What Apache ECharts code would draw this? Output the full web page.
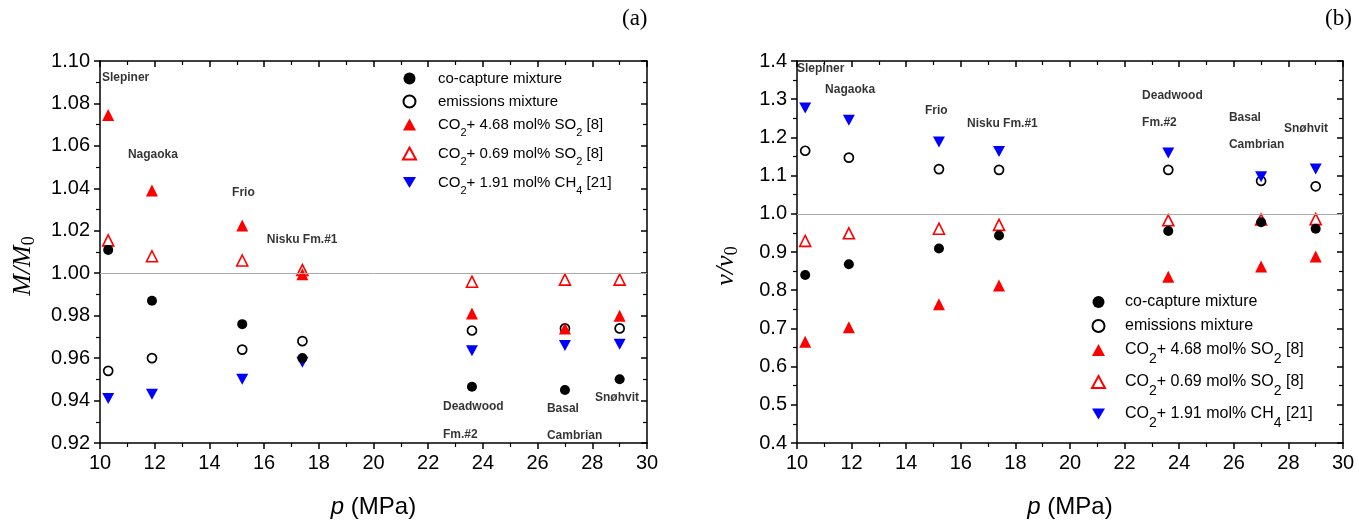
<!DOCTYPE html>
<html>
<head>
<meta charset="utf-8">
<script src="https://cdn.jsdelivr.net/npm/echarts@6/dist/echarts.min.js"></script>
<style>html,body{margin:0;padding:0;background:#fff}#c{width:1359px;height:525px}</style>
</head>
<body>
<div id="c"></div>
<script>
// ---- data ----
const pressure = [10.3, 11.9, 15.2, 17.4, 23.6, 27.0, 29.0];
// panel (a): M/M0
const coCaptureM = [1.011, 0.987, 0.976, 0.960, 0.9465, 0.945, 0.950];
const emissionsM = [0.954, 0.960, 0.964, 0.968, 0.973, 0.974, 0.974];
const so2HighM   = [1.0745, 1.039, 1.0225, 0.9995, 0.981, 0.974, 0.980];
const so2LowM    = [1.0155, 1.008, 1.006, 1.0015, 0.996, 0.997, 0.997];
const ch4M       = [0.941, 0.943, 0.950, 0.958, 0.9635, 0.966, 0.9665];
// panel (b): v/v0
const coCaptureV = [0.840, 0.868, 0.909, 0.943, 0.955, 0.978, 0.961];
const emissionsV = [1.165, 1.147, 1.117, 1.115, 1.115, 1.086, 1.072];
const so2HighV   = [0.665, 0.703, 0.763, 0.812, 0.835, 0.862, 0.888];
const so2LowV    = [0.929, 0.949, 0.961, 0.971, 0.983, 0.985, 0.986];
const ch4V       = [1.277, 1.245, 1.188, 1.163, 1.159, 1.097, 1.117];
// site annotations (data coordinates of label anchor)
const siteNames = ['Slepiner', 'Nagaoka', 'Frio', 'Nisku Fm.#1', 'Deadwood', 'Fm.#2', 'Basal', 'Cambrian', 'Snøhvit'];
const siteXM = [10.07, 11.02, 14.83, 16.1, 22.54, 22.54, 26.34, 26.34, 28.1];
const siteYM = [1.092, 1.0557, 1.0378, 1.0156, 0.937, 0.9238, 0.936, 0.9233, 0.9412];
const siteXV = [10.0, 11.03, 14.69, 16.23, 22.64, 22.64, 25.82, 25.82, 27.84];
const siteYV = [1.379, 1.324, 1.269, 1.235, 1.308, 1.238, 1.251, 1.18, 1.222];
// series names
const seriesNames = ['co-capture mixture', 'emissions mixture', 'CO2+ 4.68 mol% SO2 [8]', 'CO2+ 0.69 mol% SO2 [8]', 'CO2+ 1.91 mol% CH4 [21]'];
const legendRich = ['co-capture mixture', 'emissions mixture', 'CO{s|2}+ 4.68 mol% SO{s|2} [8]', 'CO{s|2}+ 0.69 mol% SO{s|2} [8]', 'CO{s|2}+ 1.91 mol% CH{s|4} [21]'];
const xTicks = {min: 10, max: 30, interval: 2};

// ---- styles ----
const SANS = 'Liberation Sans';
const SERIF = 'Liberation Serif';
const downTri = 'path://M0,0L20,0L10,17Z';
const styles = [
  {symbol: 'circle', symbolSize: 10, itemStyle: {color: '#000', opacity: 1}},
  {symbol: 'circle', symbolSize: 9, itemStyle: {color: 'rgba(0,0,0,0)', borderColor: '#000', borderWidth: 1.7, opacity: 1}},
  {symbol: 'triangle', symbolSize: 12, itemStyle: {color: '#f00', opacity: 1}},
  {symbol: 'triangle', symbolSize: 11, itemStyle: {color: 'rgba(0,0,0,0)', borderColor: '#f00', borderWidth: 1.6, opacity: 1}},
  {symbol: downTri, symbolSize: [12, 11], itemStyle: {color: '#00f', opacity: 1}}
];

const chart = echarts.init(document.getElementById('c'));

function zip(xs, ys) { return xs.map((x, i) => [x, ys[i]]); }

function makeAxes(gridIndex, yMin, yMax, yInt, digits, yName) {
  const lineStyle = {color: '#000', width: 1.5};
  const xs = [
    {type: 'value', gridIndex, position: 'bottom', min: xTicks.min, max: xTicks.max, interval: xTicks.interval,
     axisLine: {show: true, onZero: false, lineStyle}, axisTick: {show: true, inside: false, length: 6, lineStyle},
     minorTick: {show: true, splitNumber: 2, length: 4, lineStyle: {color: '#000', width: 1.2}},
     splitLine: {show: false}, minorSplitLine: {show: false},
     axisLabel: {color: '#000', fontFamily: SANS, fontSize: 20, margin: 10},
     name: '{i|p} (MPa)', nameLocation: 'middle', nameGap: 52,
     nameTextStyle: {color: '#000', fontFamily: SANS, fontSize: 24, rich: {i: {fontStyle: 'italic', fontFamily: SANS, fontSize: 24, color: '#000'}}}},
    {type: 'value', gridIndex, position: 'top', min: xTicks.min, max: xTicks.max, interval: xTicks.interval,
     axisLine: {show: true, onZero: false, lineStyle}, axisTick: {show: true, inside: true, length: 6, lineStyle},
     minorTick: {show: true, splitNumber: 2, length: 4, lineStyle: {color: '#000', width: 1.2}},
     splitLine: {show: false}, axisLabel: {show: false}}
  ];
  const ys = [
    {type: 'value', gridIndex, position: 'left', min: yMin, max: yMax, interval: yInt,
     axisLine: {show: true, onZero: false, lineStyle}, axisTick: {show: true, inside: false, length: 6, lineStyle},
     minorTick: {show: true, splitNumber: 2, length: 4, lineStyle: {color: '#000', width: 1.2}},
     splitLine: {show: false},
     axisLabel: {color: '#000', fontFamily: SANS, fontSize: 20, margin: 10, formatter: v => v.toFixed(digits)},
     name: yName, nameLocation: 'middle', nameGap: digits === 2 ? 62 : 56,
     nameTextStyle: {color: '#000', fontFamily: SERIF, fontSize: 26, padding: [0, 28, 0, 0],
       rich: {i: {fontStyle: 'italic', fontFamily: SERIF, fontSize: 26, color: '#000'},
              s: {fontFamily: SERIF, fontSize: 18, color: '#000', padding: [12, 0, 0, 0]}}}},
    {type: 'value', gridIndex, position: 'right', min: yMin, max: yMax, interval: yInt,
     axisLine: {show: true, onZero: false, lineStyle}, axisTick: {show: true, inside: true, length: 6, lineStyle},
     minorTick: {show: true, splitNumber: 2, length: 4, lineStyle: {color: '#000', width: 1.2}},
     splitLine: {show: false}, axisLabel: {show: false}}
  ];
  return {xs, ys};
}

const a = makeAxes(0, 0.92, 1.10, 0.02, 2, '{i|M/M}{s|0}');
const b = makeAxes(1, 0.4, 1.4, 0.1, 1, '{i|v/v}{s|0}');

function panelSeries(axisIdx, vals, siteX, siteY) {
  const out = vals.map((v, k) => Object.assign({
    name: seriesNames[k], type: 'scatter', xAxisIndex: axisIdx, yAxisIndex: axisIdx,
    data: zip(pressure, v), z: 3
  }, styles[k]));
  out[0].markLine = {silent: true, symbol: 'none', label: {show: false},
    lineStyle: {color: '#aaa', width: 1, type: 'solid'}, data: [{yAxis: 1.0}]};
  out[0].z = 4;
  out.push({
    name: 'sites', type: 'scatter', xAxisIndex: axisIdx, yAxisIndex: axisIdx, symbolSize: 0, silent: true,
    data: siteNames.map((n, i) => ({name: n, value: [siteX[i], siteY[i]]})),
    label: {show: true, position: [0, 0], align: 'left', verticalAlign: 'middle', formatter: p => p.name,
      fontFamily: SANS, fontWeight: 'bold', fontSize: 12, color: '#000'}
  });
  return out;
}

function makeLegend(left, top, fs, subFs, subPad, gap, textPad) {
  return {
    left, top, orient: 'vertical', data: seriesNames, itemWidth: 13, itemHeight: 12, itemGap: gap,
    selectedMode: false,
    formatter: name => legendRich[seriesNames.indexOf(name)],
    textStyle: {fontFamily: SANS, fontSize: fs, color: '#000', padding: [0, 0, 0, textPad],
      rich: {s: {fontFamily: SANS, fontSize: subFs, color: '#000', padding: [subPad, 0, 0, 0]}}}
  };
}

chart.setOption({
  animation: false,
  backgroundColor: '#fff',
  title: [
    {text: '(a)', left: 617, top: 2, textStyle: {fontFamily: SERIF, fontWeight: 'normal', fontSize: 23, color: '#000'}},
    {text: '(b)', left: 1320, top: 2, textStyle: {fontFamily: SERIF, fontWeight: 'normal', fontSize: 23, color: '#000'}}
  ],
  grid: [
    {left: 100, right: 712, top: 61, bottom: 82},
    {left: 797, right: 16, top: 61, bottom: 82}
  ],
  legend: [makeLegend(397, 66, 15, 11, 16, 8, 17), makeLegend(1086, 289, 16, 14, 18, 8, 15)],
  xAxis: [a.xs[0], b.xs[0], a.xs[1], b.xs[1]],
  yAxis: [a.ys[0], b.ys[0], a.ys[1], b.ys[1]],
  series: [].concat(
    panelSeries(0, [coCaptureM, emissionsM, so2HighM, so2LowM, ch4M], siteXM, siteYM),
    panelSeries(1, [coCaptureV, emissionsV, so2HighV, so2LowV, ch4V], siteXV, siteYV)
  )
});
</script>
</body>
</html>
